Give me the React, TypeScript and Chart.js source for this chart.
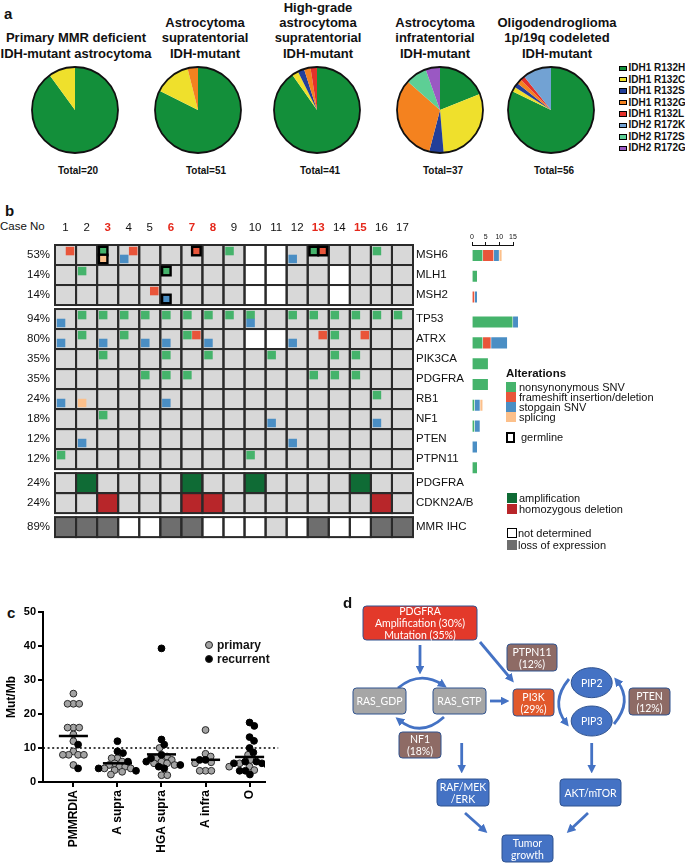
import React, { useEffect, useRef } from 'react';
import { Chart, registerables } from 'chart.js';

Chart.register(...registerables);

const FONT = "'Liberation Sans', Arial, Helvetica, sans-serif";
const DIAGRAM_FONT = "Lato, 'Open Sans', 'Liberation Sans', sans-serif";

// ---------------- Panel a : IDH variants ----------------
const idhVariants = ['IDH1 R132H', 'IDH1 R132C', 'IDH1 R132S', 'IDH1 R132G', 'IDH1 R132L', 'IDH2 R172K', 'IDH2 R172S', 'IDH2 R172G'];
const idhColors = ['#138f3a', '#efe02c', '#233f99', '#f4821f', '#e4312a', '#72a2d3', '#5dcf95', '#9a58c3'];
const pieTitles = [
  ['Primary MMR deficient', 'IDH-mutant astrocytoma'],
  ['Astrocytoma', 'supratentorial', 'IDH-mutant'],
  ['High-grade', 'astrocytoma', 'supratentorial', 'IDH-mutant'],
  ['Astrocytoma', 'infratentorial', 'IDH-mutant'],
  ['Oligodendroglioma', '1p/19q codeleted', 'IDH-mutant'],
];
const pmmrdiaIdh = [18, 2, 0, 0, 0, 0, 0, 0];
const astroSupraIdh = [42, 7, 0, 2, 0, 0, 0, 0];
const hgaSupraIdh = [37, 1, 1, 1, 1, 0, 0, 0];
const astroInfraIdh = [7, 11, 2, 12, 0, 0, 3, 2];
const oligoIdh = [46, 1, 1, 1, 1, 6, 0, 0];
const pieSeries = [pmmrdiaIdh, astroSupraIdh, hgaSupraIdh, astroInfraIdh, oligoIdh];

// layout of panel a
const pieCenterX = [75, 197.5, 317, 439.5, 550.5];
const pieTitleX = [76, 205, 318, 435, 557];
const pieTotalX = [78, 206, 320, 443, 554];

// ---------------- Panel b : oncoprint ----------------
const caseNumbers = [1, 2, 3, 4, 5, 6, 7, 8, 9, 10, 11, 12, 13, 14, 15, 16, 17];
const highlightedCases = [3, 6, 7, 8, 13, 15];
const snvGenes = ['MSH6', 'MLH1', 'MSH2', 'TP53', 'ATRX', 'PIK3CA', 'PDGFRA', 'RB1', 'NF1', 'PTEN', 'PTPN11'];
const nonsynonymousSNV: Record<string, number[]> = {
  MSH6: [3, 9, 13, 16], MLH1: [2, 6], MSH2: [],
  TP53: [2, 3, 4, 5, 6, 7, 8, 9, 10, 12, 13, 14, 15, 16, 17],
  ATRX: [2, 4, 7, 14], PIK3CA: [3, 6, 8, 11, 14, 15], PDGFRA: [5, 6, 7, 13, 14, 15],
  RB1: [16], NF1: [3], PTEN: [], PTPN11: [1, 10],
};
const frameshiftIndel: Record<string, number[]> = { MSH6: [1, 4, 7, 13], MSH2: [5], ATRX: [7, 13, 15] };
const stopgainSNV: Record<string, number[]> = {
  MSH6: [4, 12], MSH2: [6], TP53: [1, 10], ATRX: [1, 3, 5, 6, 8, 12], RB1: [1, 6], NF1: [11, 16], PTEN: [2, 12],
};
const splicingVariant: Record<string, number[]> = { MSH6: [3], RB1: [2] };
const germlineVariants: [string, number][] = [['MSH6', 3], ['MSH6', 7], ['MSH6', 13], ['MLH1', 6], ['MSH2', 6]];
const snvNotDetermined: Record<string, number[]> = { MSH6: [10, 11], MLH1: [10, 11, 14], MSH2: [10, 11, 14], ATRX: [10, 11] };
const pdgfraAmplified = [2, 7, 10, 15];
const cdkn2abDeleted = [3, 7, 8, 16];
const mmrIhcLoss = [1, 2, 3, 6, 7, 13, 16, 17];
const mmrIhcNotDetermined = [4, 5, 8, 9, 10, 12, 14, 15];

const C_NONSYN = '#45b36b';
const C_FS = '#e9553a';
const C_STOP = '#4a8ec4';
const C_SPLICE = '#fcc08b';
const C_AMP = '#0f6b35';
const C_DEL = '#b8262a';
const C_CELL = '#d8d8d8';
const C_LOSS = '#6e6e6e';

const alterationTypes = [
  { name: 'nonsynonymous SNV', color: C_NONSYN, map: nonsynonymousSNV, corner: 'TL' },
  { name: 'frameshift insertion/deletion', color: C_FS, map: frameshiftIndel, corner: 'TR' },
  { name: 'stopgain SNV', color: C_STOP, map: stopgainSNV, corner: 'BL' },
  { name: 'splicing', color: C_SPLICE, map: splicingVariant, corner: 'BL' },
];

type Row = { label: string; kind: 'snv' | 'amp' | 'del' | 'ihc'; gene: string; group: number };
const ONCO_ROWS: Row[] = [
  ...snvGenes.map((g, i) => ({ label: g, kind: 'snv' as const, gene: g, group: i < 3 ? 0 : 1 })),
  { label: 'PDGFRA', kind: 'amp', gene: 'PDGFRA', group: 2 },
  { label: 'CDKN2A/B', kind: 'del', gene: 'CDKN2A/B', group: 2 },
  { label: 'MMR IHC', kind: 'ihc', gene: 'MMR', group: 3 },
];
const GROUP_GAP = 0.2;
const rowStart = (r: number) => r + GROUP_GAP * ONCO_ROWS[r].group;
const GRID_UNITS = ONCO_ROWS.length + GROUP_GAP * 3;
const GRID_AREA_PX = 304;
const BAR_AREA_PX = 233;
const BAR_UNITS = BAR_AREA_PX / (GRID_AREA_PX / GRID_UNITS);

function mutatedCases(gene: string) {
  const s = new Set<number>();
  alterationTypes.forEach((t) => (t.map[gene] || []).forEach((c) => s.add(c)));
  return s;
}
function rowPercent(row: Row) {
  const n = caseNumbers.length;
  let v = 0;
  if (row.kind === 'snv') v = mutatedCases(row.gene).size / (n - (snvNotDetermined[row.gene] || []).length);
  else if (row.kind === 'amp') v = pdgfraAmplified.length / n;
  else if (row.kind === 'del') v = cdkn2abDeleted.length / n;
  else v = mmrIhcLoss.length / (n - mmrIhcNotDetermined.length);
  return Math.round(v * 100) + '%';
}
const rowPercentLabels = ONCO_ROWS.map(rowPercent);

function cellFill(row: Row, c: number) {
  if (row.kind === 'snv') return (snvNotDetermined[row.gene] || []).includes(c) ? '#ffffff' : C_CELL;
  if (row.kind === 'amp') return pdgfraAmplified.includes(c) ? C_AMP : C_CELL;
  if (row.kind === 'del') return cdkn2abDeleted.includes(c) ? C_DEL : C_CELL;
  if (mmrIhcLoss.includes(c)) return C_LOSS;
  if (mmrIhcNotDetermined.includes(c)) return '#ffffff';
  return C_CELL;
}

const oncoGridPlugin = {
  id: 'oncoGrid',
  beforeDatasetsDraw(chart: any) {
    const ctx = chart.ctx;
    const xs = chart.scales.x;
    const ys = chart.scales.y;
    ctx.save();
    const cells: any[] = [];
    ONCO_ROWS.forEach((row, r) => {
      const y0 = ys.getPixelForValue(rowStart(r));
      const y1 = ys.getPixelForValue(rowStart(r) + 1);
      caseNumbers.forEach((c) => {
        const x0 = xs.getPixelForValue(c - 1);
        const x1 = xs.getPixelForValue(c);
        ctx.fillStyle = cellFill(row, c);
        ctx.fillRect(x0, y0, x1 - x0, y1 - y0);
        cells.push({ row, c, x0, x1, y0, y1 });
      });
    });
    ctx.lineWidth = 2;
    ctx.strokeStyle = '#2a2a2a';
    cells.forEach(({ x0, x1, y0, y1 }) => ctx.strokeRect(x0, y0, x1 - x0, y1 - y0));
    const S = 8.5;
    const M = 1.8;
    cells.forEach(({ row, c, x0, x1, y0, y1 }) => {
      if (row.kind !== 'snv') return;
      const germ = germlineVariants.some(([g, k]) => g === row.gene && k === c);
      alterationTypes.forEach((t) => {
        if (!(t.map[row.gene] || []).includes(c)) return;
        const sx = t.corner === 'TR' ? x1 - M - S : x0 + M;
        const sy = t.corner === 'BL' ? y1 - M - S : y0 + M;
        ctx.fillStyle = t.color;
        ctx.fillRect(sx, sy, S, S);
        if (germ) {
          ctx.lineWidth = 2.4;
          ctx.strokeStyle = '#000';
          ctx.strokeRect(sx, sy, S, S);
        }
      });
    });
    ctx.restore();
  },
};

// ---------------- Panel c : tumour mutational burden ----------------
const tmbGroups = ['PMMRDIA', 'A supra', 'HGA supra', 'A infra', 'O'];
const pmmrdiaPrimary = [26, 23, 23, 23, 16, 16, 16, 14, 12, 9, 8, 8, 8, 8, 5];
const pmmrdiaRecurrent = [11, 4];
const aSupraPrimary = [7, 7, 6, 5.5, 5, 4.5, 4.5, 4, 4, 3.5, 3, 2.2];
const aSupraRecurrent = [12, 9, 8.5, 6, 4, 3.3];
const hgaSupraPrimary = [10, 7.5, 7, 6.5, 6, 5.5, 5.5, 5, 2, 2];
const hgaSupraRecurrent = [39.3, 12.5, 11, 8, 7, 6, 5, 4.5, 4];
const aInfraPrimary = [15.3, 8.3, 7.5, 5.8, 5.5, 3.3, 3.3, 3.3];
const aInfraRecurrent = [6.5, 6.5];
const oPrimary = [8, 6.5, 5.5, 4.5, 4.5, 3.5];
const oRecurrent = [17.5, 16.5, 13.2, 12.1, 10, 8.7, 6, 6, 5.5, 5.5, 5, 3.3, 3.3, 2.2];
const tmbThreshold = 10;
const tmbPrimary = [pmmrdiaPrimary, aSupraPrimary, hgaSupraPrimary, aInfraPrimary, oPrimary];
const tmbRecurrent = [pmmrdiaRecurrent, aSupraRecurrent, hgaSupraRecurrent, aInfraRecurrent, oRecurrent];

// beeswarm layout (computed, approximate pixel scale of the plot)
const SW_PX_CAT = 44;
const SW_PX_VAL = 3.4;
const SW_D = 5.8;
function swarmOffsets(values: number[]) {
  const placed: { x: number; y: number }[] = [];
  const out = new Array(values.length).fill(0);
  const order = values.map((_, i) => i).sort((a, b) => values[b] - values[a]);
  order.forEach((i) => {
    const y = values[i] * SW_PX_VAL;
    const cands = [0];
    placed.forEach((p) => {
      const dy = Math.abs(p.y - y);
      if (dy < SW_D) {
        const dx = Math.sqrt(SW_D * SW_D - dy * dy);
        cands.push(p.x + dx, p.x - dx);
      }
    });
    cands.sort((a, b) => Math.abs(a) - Math.abs(b) || b - a);
    const x = cands.find((cx) => placed.every((p) => (p.x - cx) ** 2 + (p.y - y) ** 2 >= SW_D * SW_D - 0.01)) ?? 0;
    placed.push({ x, y });
    out[i] = x / SW_PX_CAT;
  });
  return out;
}
const tmbPoints = tmbGroups.map((_, gi) => {
  const vals = [...tmbPrimary[gi], ...tmbRecurrent[gi]];
  const off = swarmOffsets(vals);
  const np = tmbPrimary[gi].length;
  return {
    primary: tmbPrimary[gi].map((v, k) => ({ x: gi + off[k], y: v })),
    recurrent: tmbRecurrent[gi].map((v, k) => ({ x: gi + off[np + k], y: v })),
    mean: vals.reduce((a, b) => a + b, 0) / vals.length,
  };
});

// ---------------- Chart configs ----------------
const pieOutline = {
  id: 'pieOutline',
  afterDatasetsDraw(chart: any) {
    const arc = chart.getDatasetMeta(0).data[0];
    if (!arc) return;
    const ctx = chart.ctx;
    ctx.save();
    ctx.beginPath();
    ctx.arc(arc.x, arc.y, arc.outerRadius, 0, Math.PI * 2);
    ctx.lineWidth = 1.8;
    ctx.strokeStyle = '#111';
    ctx.stroke();
    ctx.restore();
  },
};

const pieConfig = (counts: number[]) => () => ({
  type: 'pie',
  data: { labels: idhVariants, datasets: [{ data: counts, backgroundColor: idhColors, borderWidth: 0 }] },
  options: {
    animation: false, responsive: false, maintainAspectRatio: false, events: [],
    layout: { padding: 5 },
    plugins: { legend: { display: false }, tooltip: { enabled: false } },
  },
  plugins: [pieOutline],
});

const rowTicks = () => ONCO_ROWS.map((_, r) => ({ value: rowStart(r) + 0.5 }));

const gridConfig = () => ({
  type: 'scatter',
  data: { datasets: [] },
  options: {
    animation: false, responsive: false, maintainAspectRatio: false, events: [],
    layout: { padding: 0 },
    plugins: { legend: { display: false }, tooltip: { enabled: false } },
    scales: {
      x: {
        type: 'linear', position: 'top', min: 0, max: caseNumbers.length,
        afterBuildTicks: (s: any) => { s.ticks = caseNumbers.map((c) => ({ value: c - 0.5 })); },
        afterFit: (s: any) => { s.height = 40; },
        grid: { display: false, drawTicks: false }, border: { display: false },
        ticks: {
          autoSkip: false, maxRotation: 0, minRotation: 0, padding: 10,
          callback: (_v: any, i: number) => String(caseNumbers[i]),
          color: (ctx: any) => (highlightedCases.includes(caseNumbers[ctx.index]) ? '#e5281b' : '#111'),
          font: (ctx: any) => ({ family: FONT, size: 11.5, weight: highlightedCases.includes(caseNumbers[ctx.index]) ? 'bold' : 'normal' }),
        },
      },
      y: {
        type: 'linear', position: 'left', reverse: true, min: 0, max: GRID_UNITS,
        afterBuildTicks: (s: any) => { s.ticks = rowTicks(); },
        afterFit: (s: any) => { s.width = 55; },
        grid: { display: false, drawTicks: false }, border: { display: false },
        ticks: { autoSkip: false, padding: 5, color: '#111', font: { family: FONT, size: 11.5 }, callback: (_v: any, i: number) => rowPercentLabels[i] },
      },
      yGene: {
        type: 'linear', position: 'right', reverse: true, min: 0, max: GRID_UNITS,
        afterBuildTicks: (s: any) => { s.ticks = rowTicks(); },
        afterFit: (s: any) => { s.width = 77; },
        grid: { display: false, drawTicks: false }, border: { display: false },
        ticks: { autoSkip: false, padding: 3, color: '#111', font: { family: FONT, size: 11.5 }, callback: (_v: any, i: number) => ONCO_ROWS[i].label },
      },
    },
  },
  plugins: [oncoGridPlugin],
});

const barConfig = () => {
  const datasets = alterationTypes.map((t, k) => ({
    label: t.name,
    backgroundColor: t.color,
    borderColor: 'rgba(255,255,255,0.55)',
    borderWidth: 0.8,
    barThickness: 12,
    grouped: false,
    clip: false,
    data: snvGenes
      .map((g, i) => {
        const start = alterationTypes.slice(0, k).reduce((a, p) => a + (p.map[g] || []).length, 0);
        const n = (t.map[g] || []).length;
        return { y: rowStart(i) + 0.5, x: [start, start + n], n };
      })
      .filter((d) => d.n > 0),
  }));
  return {
    type: 'bar',
    data: { datasets },
    options: {
      indexAxis: 'y', animation: false, responsive: false, maintainAspectRatio: false, events: [],
      layout: { padding: { left: 10, right: 11, top: 0, bottom: 0 } },
      plugins: { legend: { display: false }, tooltip: { enabled: false } },
      scales: {
        x: {
          type: 'linear', position: 'top', min: 0, max: 15,
          afterFit: (s: any) => { s.height = 30; },
          ticks: { stepSize: 5, maxRotation: 0, padding: 1, color: '#111', font: { family: FONT, size: 7 } },
          grid: { drawOnChartArea: false, drawTicks: true, tickLength: 3, color: '#111', lineWidth: 1 },
          border: { display: true, color: '#111', width: 1 },
        },
        y: { type: 'linear', display: false, offset: false, reverse: true, min: 0, max: BAR_UNITS, grid: { offset: false } },
      },
    },
  };
};

const tmbConfig = () => ({
  type: 'scatter',
  data: {
    datasets: [
      ...tmbPoints.map((g, gi) => ({
        type: 'line', order: 0, data: [{ x: gi - 0.33, y: g.mean }, { x: gi + 0.33, y: g.mean }],
        borderColor: '#000', borderWidth: 2.5, pointRadius: 0, fill: false,
      })),
      {
        label: 'recurrent', order: 1, data: tmbPoints.flatMap((g) => g.recurrent),
        backgroundColor: '#000', borderColor: '#000', borderWidth: 1, pointRadius: 3.4,
      },
      {
        label: 'primary', order: 2, data: tmbPoints.flatMap((g) => g.primary),
        backgroundColor: '#a3a3a3', borderColor: '#2a2a2a', borderWidth: 1, pointRadius: 3.4,
      },
      {
        type: 'line', order: 3, data: [{ x: -0.69, y: tmbThreshold }, { x: 4.65, y: tmbThreshold }],
        borderColor: '#000', borderWidth: 1.5, borderDash: [2, 2.6], pointRadius: 0, clip: false, fill: false,
      },
    ],
  },
  options: {
    animation: false, responsive: false, maintainAspectRatio: false, events: [],
    layout: { padding: { top: 12, right: 25, left: 0, bottom: 0 } },
    plugins: { legend: { display: false }, tooltip: { enabled: false } },
    scales: {
      x: {
        type: 'linear', min: -0.69, max: 4.35,
        afterBuildTicks: (s: any) => { s.ticks = tmbGroups.map((_, i) => ({ value: i })); },
        afterFit: (s: any) => { s.height = 82; },
        ticks: {
          autoSkip: false, minRotation: 90, maxRotation: 90, padding: 3, color: '#000',
          font: { family: FONT, size: 12, weight: 'bold' }, callback: (_v: any, i: number) => tmbGroups[i],
        },
        grid: { drawOnChartArea: false, drawTicks: true, tickLength: 5, color: '#000', lineWidth: 2 },
        border: { display: true, color: '#000', width: 2 },
      },
      y: {
        type: 'linear', min: 0, max: 50,
        afterFit: (s: any) => { s.width = 43; },
        ticks: { stepSize: 10, padding: 2, color: '#000', font: { family: FONT, size: 11, weight: 'bold' } },
        grid: { drawOnChartArea: false, drawTicks: true, tickLength: 5, color: '#000', lineWidth: 2 },
        border: { display: true, color: '#000', width: 2 },
        title: { display: true, text: 'Mut/Mb', color: '#000', font: { family: FONT, size: 12, weight: 'bold' }, padding: { top: 4, bottom: 0 } },
      },
    },
  },
});

// ---------------- Components ----------------
function ChartBox({ left, top, width, height, make }: { left: number; top: number; width: number; height: number; make: () => any }) {
  const ref = useRef<HTMLCanvasElement | null>(null);
  useEffect(() => {
    if (!ref.current) return;
    const chart = new Chart(ref.current, make());
    return () => chart.destroy();
  }, []);
  return <canvas ref={ref} width={width} height={height} style={{ position: 'absolute', left, top, width, height }} />;
}

const abs = (left: number, top: number, extra: any = {}) => ({ position: 'absolute' as const, left, top, whiteSpace: 'nowrap' as const, ...extra });

function PanelLabel({ text, x, y }: { text: string; x: number; y: number }) {
  return <div style={abs(x - 5, y - 9, { font: `bold 15px ${FONT}`, lineHeight: '18px', color: '#111' })}>{text}</div>;
}

function Diagram() {
  const BLUE = '#4472c4';
  const EDGE = '#2f528f';
  const BROWN = '#8e6b65';
  const boxes = [
    { x: 363, y: 606, w: 114, h: 34, fill: '#e3392a', lines: ['PDGFRA', 'Amplification (30%)', 'Mutation (35%)'] },
    { x: 507, y: 644, w: 50, h: 27, fill: BROWN, lines: ['PTPN11', '(12%)'] },
    { x: 353, y: 688, w: 53, h: 26, fill: '#a6a6a6', lines: ['RAS_GDP'] },
    { x: 433, y: 688, w: 53, h: 26, fill: '#a6a6a6', lines: ['RAS_GTP'] },
    { x: 513, y: 689, w: 41, h: 27, fill: '#e1592c', lines: ['PI3K', '(29%)'] },
    { x: 629, y: 688, w: 41, h: 27, fill: BROWN, lines: ['PTEN', '(12%)'] },
    { x: 399, y: 732, w: 42, h: 26, fill: BROWN, lines: ['NF1', '(18%)'] },
    { x: 437, y: 779, w: 52, h: 27, fill: BLUE, lines: ['RAF/MEK', '/ERK'] },
    { x: 560, y: 779, w: 61, h: 27, fill: BLUE, lines: ['AKT/mTOR'] },
    { x: 502, y: 835, w: 51, h: 27, fill: BLUE, lines: ['Tumor', 'growth'] },
  ];
  const circles = [
    { cx: 591.7, cy: 682.7, label: 'PIP2' },
    { cx: 591.7, cy: 721, label: 'PIP3' },
  ];
  const arrows = [
    'M420,645 L420,670',
    'M480,642 L511,679',
    'M490,701 L505,701',
    'M461.7,743 L461.7,769',
    'M591.7,743 L591.7,769',
    'M465,813 L484,830',
    'M588,813 L570,830',
    'M398,688 Q420,670 443,685',
    'M444,717 Q421,738 399,720',
    'M569,679 Q550,702 566,723',
    'M614,724 Q633,701 617,681',
  ];
  return (
    <svg width={355} height={274} viewBox="330 590 355 274" style={{ position: 'absolute', left: 330, top: 590 }}>
      <defs>
        <marker id="ahead" markerWidth="3.2" markerHeight="3.2" refX="1.6" refY="1.6" orient="auto" markerUnits="strokeWidth">
          <path d="M0,0 L3.2,1.6 L0,3.2 z" fill={BLUE} />
        </marker>
      </defs>
      {arrows.map((d, i) => (
        <path key={i} d={d} stroke={BLUE} strokeWidth={2.8} fill="none" markerEnd="url(#ahead)" />
      ))}
      {boxes.map((b, i) => (
        <g key={i}>
          <rect x={b.x} y={b.y} width={b.w} height={b.h} rx={3.5} fill={b.fill} stroke={EDGE} strokeWidth={1} />
          {b.lines.map((l, k) => (
            <text key={k} x={b.x + b.w / 2} y={b.y + b.h / 2 + (k - (b.lines.length - 1) / 2) * 12} textAnchor="middle" dominantBaseline="central" fill="#fff" fontSize={10.5} fontFamily={DIAGRAM_FONT}>{l}</text>
          ))}
        </g>
      ))}
      {circles.map((c, i) => (
        <g key={i}>
          <ellipse cx={c.cx} cy={c.cy} rx={20.5} ry={15} fill={BLUE} stroke={EDGE} strokeWidth={1} />
          <text x={c.cx} y={c.cy} textAnchor="middle" dominantBaseline="central" fill="#fff" fontSize={10.5} fontFamily={DIAGRAM_FONT}>{c.label}</text>
        </g>
      ))}
    </svg>
  );
}

export default function App() {
  const legendBox = (color: string, border = 'none') => ({ width: 10, height: 10, background: color, border, boxSizing: 'border-box' as const });
  return (
    <div style={{ position: 'absolute', left: 0, top: 0, width: 685, height: 864, background: '#fff', overflow: 'hidden', fontFamily: FONT, color: '#111' }}>
      {/* Panel a */}
      <PanelLabel text="a" x={9} y={14} />
      {pieTitles.map((lines, i) => (
        <div key={'t' + i} style={abs(pieTitleX[i] - 90, 61 - lines.length * 15.3, { width: 180, textAlign: 'center', font: `bold 13px ${FONT}`, lineHeight: '15.3px' })}>
          {lines.map((l, k) => <div key={k}>{l}</div>)}
        </div>
      ))}
      {pieSeries.map((counts, i) => (
        <ChartBox key={'p' + i} left={pieCenterX[i] - 48} top={62} width={96} height={96} make={pieConfig(counts)} />
      ))}
      {pieSeries.map((counts, i) => (
        <div key={'n' + i} style={abs(pieTotalX[i] - 40, 164, { width: 80, textAlign: 'center', font: `bold 10px ${FONT}`, lineHeight: '13px' })}>
          {'Total=' + counts.reduce((a, b) => a + b, 0)}
        </div>
      ))}
      {idhVariants.map((v, i) => (
        <div key={'l' + i} style={abs(619, 68.3 + i * 11.43 - 6, { height: 12, display: 'flex', alignItems: 'center' })}>
          <div style={{ width: 7.5, height: 5.5, background: idhColors[i], border: '1.4px solid #000', boxSizing: 'border-box', marginRight: 2 }} />
          <span style={{ font: `bold 10px ${FONT}`, lineHeight: '12px' }}>{v}</span>
        </div>
      ))}

      {/* Panel b */}
      <PanelLabel text="b" x={10} y={211} />
      <div style={abs(0, 219, { font: `11.5px ${FONT}`, lineHeight: '14px' })}>Case No</div>
      <ChartBox left={0} top={205} width={490} height={344} make={gridConfig} />
      <ChartBox left={462} top={215} width={62} height={30 + BAR_AREA_PX} make={barConfig} />
      <div style={abs(506, 366, { font: `bold 11.5px ${FONT}`, lineHeight: '15px' })}>Alterations</div>
      {alterationTypes.map((t, i) => (
        <div key={'a' + i} style={abs(506, 382.3 + i * 10, { display: 'flex', alignItems: 'center', height: 10 })}>
          <div style={legendBox(t.color)} />
          <span style={{ marginLeft: 3, font: `11px ${FONT}`, lineHeight: '10px' }}>{t.name}</span>
        </div>
      ))}
      <div style={abs(506, 431.5, { display: 'flex', alignItems: 'center', height: 11 })}>
        <div style={{ width: 9, height: 11, border: '2.2px solid #000', boxSizing: 'border-box' }} />
        <span style={{ marginLeft: 6, font: `11px ${FONT}`, lineHeight: '11px' }}>germline</span>
      </div>
      <div style={abs(506.5, 493.3, { display: 'flex', alignItems: 'center', height: 10 })}>
        <div style={legendBox(C_AMP)} />
        <span style={{ marginLeft: 2.5, font: `11px ${FONT}`, lineHeight: '10px' }}>amplification</span>
      </div>
      <div style={abs(506.5, 504, { display: 'flex', alignItems: 'center', height: 10 })}>
        <div style={legendBox(C_DEL)} />
        <span style={{ marginLeft: 2.5, font: `11px ${FONT}`, lineHeight: '10px' }}>homozygous deletion</span>
      </div>
      <div style={abs(506.5, 528, { display: 'flex', alignItems: 'center', height: 10 })}>
        <div style={legendBox('#fff', '1.6px solid #000')} />
        <span style={{ marginLeft: 1.5, font: `11px ${FONT}`, lineHeight: '10px' }}>not determined</span>
      </div>
      <div style={abs(506.5, 540, { display: 'flex', alignItems: 'center', height: 10 })}>
        <div style={legendBox(C_LOSS)} />
        <span style={{ marginLeft: 1.5, font: `11px ${FONT}`, lineHeight: '10px' }}>loss of expression</span>
      </div>

      {/* Panel c */}
      <PanelLabel text="c" x={12} y={613} />
      <ChartBox left={0} top={600} width={290} height={264} make={tmbConfig} />
      {[
        { t: 'primary', c: '#a3a3a3', y: 645 },
        { t: 'recurrent', c: '#000', y: 659 },
      ].map((l) => (
        <div key={l.t} style={abs(205, l.y - 7, { display: 'flex', alignItems: 'center', height: 14 })}>
          <div style={{ width: 8, height: 8, borderRadius: 4, background: l.c, border: '1px solid #222', boxSizing: 'border-box' }} />
          <span style={{ marginLeft: 4, font: `bold 12px ${FONT}`, lineHeight: '14px' }}>{l.t}</span>
        </div>
      ))}

      {/* Panel d */}
      <PanelLabel text="d" x={348} y={603} />
      <Diagram />
    </div>
  );
}
